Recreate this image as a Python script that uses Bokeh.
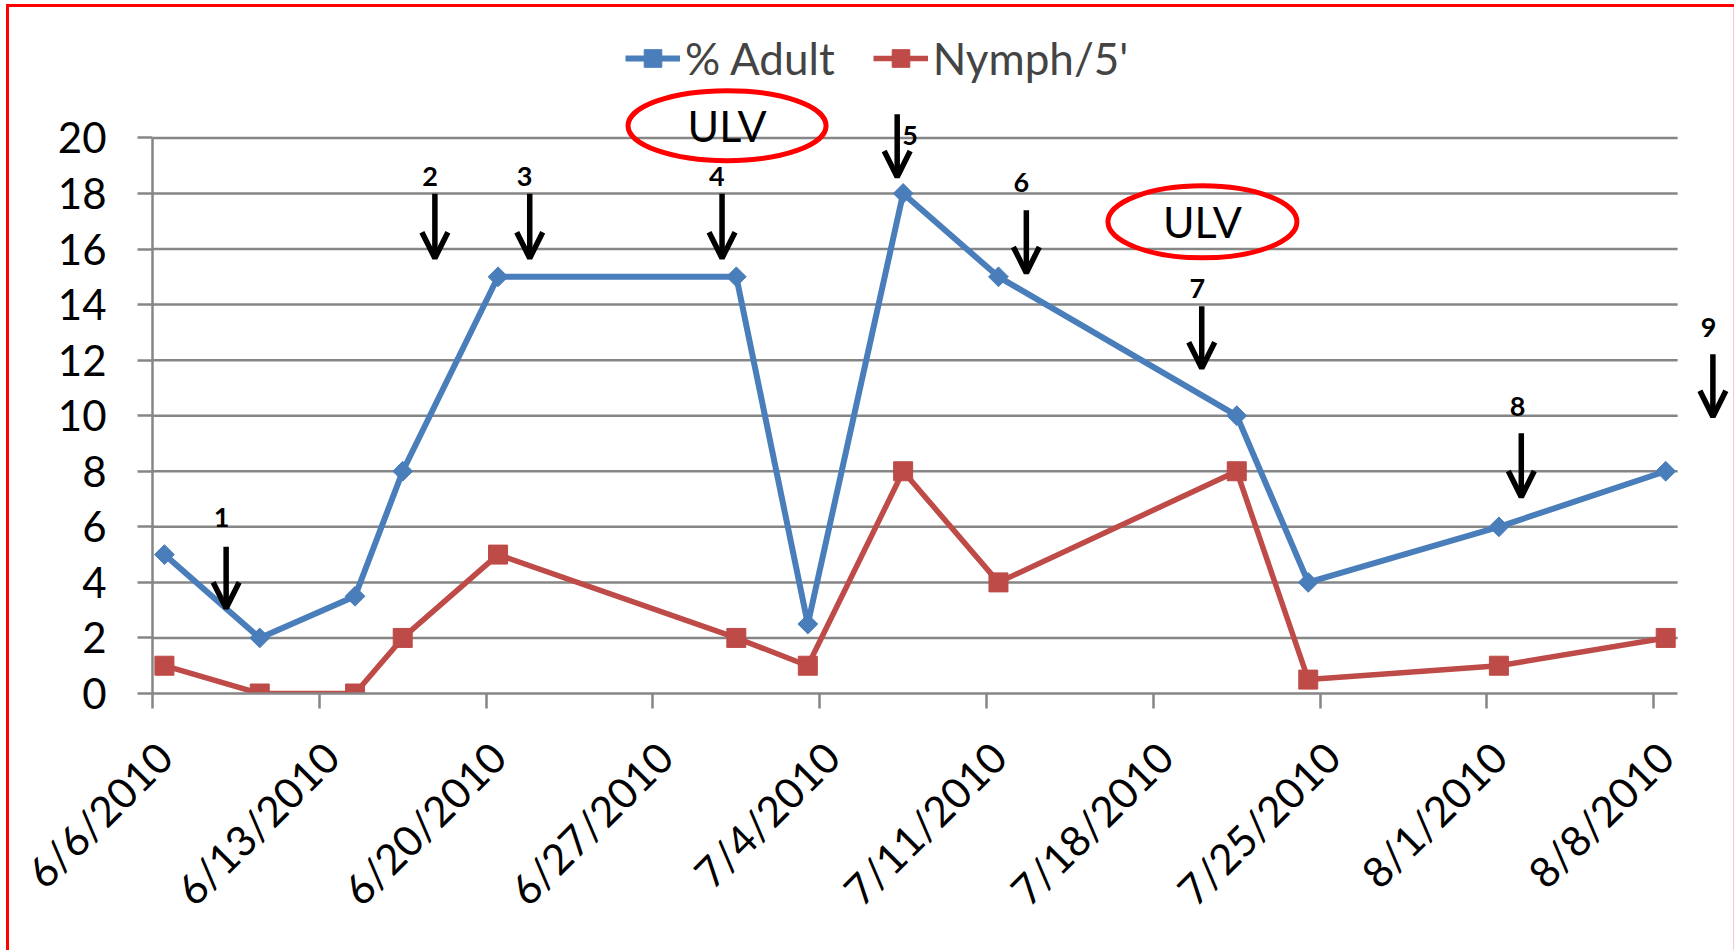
import datetime as dt
from bokeh.plotting import figure
from bokeh.models import (ColumnDataSource, Range1d, FixedTicker, Legend, LegendItem,
                          Arrow, OpenHead, LinearAxis)
from bokeh.core.properties import value
from bokeh.embed import file_html
from bokeh.resources import INLINE

# ---------------- data ----------------
sample_dates = ["2010-06-06", "2010-06-10", "2010-06-14", "2010-06-16", "2010-06-20",
                "2010-06-30", "2010-07-03", "2010-07-07", "2010-07-11", "2010-07-21",
                "2010-07-24", "2010-08-01", "2010-08-08"]
pct_adult = [5, 2, 3.5, 8, 15, 15, 2.5, 18, 15, 10, 4, 6, 8]
nymph_per_5ft = [1, 0, 0, 2, 5, 2, 1, 8, 4, 8, 0.5, 1, 2]

tick_dates = ["2010-06-06", "2010-06-13", "2010-06-20", "2010-06-27", "2010-07-04",
              "2010-07-11", "2010-07-18", "2010-07-25", "2010-08-01", "2010-08-08"]
tick_labels = ["6/6/2010", "6/13/2010", "6/20/2010", "6/27/2010", "7/4/2010",
               "7/11/2010", "7/18/2010", "7/25/2010", "8/1/2010", "8/8/2010"]
y_ticks = [0, 2, 4, 6, 8, 10, 12, 14, 16, 18, 20]

# numbered application arrows (x in days after 6/6/2010)
app_numbers = ["1", "2", "3", "4", "5", "6", "7", "8", "9"]
app_day = [3.09, 11.85, 15.83, 23.90, 31.25, 36.67, 44.03, 57.44, 65.48]
app_top = [5.28, 17.99, 17.99, 17.99, 20.85, 17.40, 13.94, 9.37, 12.21]
app_tip = [3.07, 15.67, 15.67, 15.67, 18.59, 15.14, 11.71, 7.07, 9.96]
app_label_day = [2.90, 11.65, 15.61, 23.68, 31.79, 36.46, 43.84, 57.28, 65.30]
app_label_y = [6.33, 18.62, 18.62, 18.62, 20.10, 18.39, 14.59, 10.32, 13.19]

# ULV callouts
ulv_text = ["ULV", "ULV"]
ulv_day = [24.11, 44.06]
ulv_y = [20.44, 16.98]
ulv_w = [8.31, 7.93]
ulv_h = [2.52, 2.59]

# ---------------- layout ----------------
W, H = 1734, 952
LEFT, TOP, BOTTOM = 152, 18, 259
PX_PER_DAY = 23.83
PX_PER_UNIT = 27.78
x_end = (W - LEFT) / PX_PER_DAY
y_end = (H - TOP - BOTTOM) / PX_PER_UNIT

start = dt.date(2010, 6, 6)
def day(s):
    return (dt.date.fromisoformat(s) - start).days

xs = [day(s) + 0.5 for s in sample_dates]
tick_pos = [day(s) for s in tick_dates]
label_pos = [t + 0.5 for t in tick_pos]   # Excel centres date labels on the day
axis_end = tick_pos[-1] + 1

FONT = "Lato"
BLUE = "#4A7EBB"
RED = "#BE4B48"
GRID = "#868686"
BORDER = "#FF0000"

p = figure(width=W, height=H, output_backend="svg", toolbar_location=None,
           x_range=Range1d(0, x_end), y_range=Range1d(0, y_end),
           min_border_left=LEFT, min_border_right=0, min_border_top=TOP,
           min_border_bottom=BOTTOM, outline_line_color=None,
           background_fill_color=None, border_fill_color=None)
p.xgrid.visible = False
p.ygrid.visible = False

# white page with the red chart-area border (left, top, faint right edge)
grad = f"linear-gradient({BORDER}, {BORDER})"
grad_faint = "linear-gradient(#F7CACA, #F7CACA)"
p.styles = {
    "background-color": "white",
    "background-image": f"{grad}, {grad}, {grad_faint}",
    "background-size": "3px 946px, 1728px 3px, 1px 946px",
    "background-position": "6px 4px, 6px 4px, 1733px 4px",
    "background-repeat": "no-repeat",
}

# gridlines (only across the date span)
gy = [v for v in y_ticks if v > 0]
p.segment(x0=[0] * len(gy), x1=[axis_end] * len(gy), y0=gy, y1=gy,
          line_color=GRID, line_width=2.5)

# x axis: line + tick marks (labels are drawn by the second axis)
xa = p.xaxis[0]
xa.ticker = FixedTicker(ticks=tick_pos)
xa.bounds = (0, axis_end)
xa.major_label_text_color = None
xa.major_label_text_font_size = "1px"
xa.major_label_standoff = 0
xa.axis_line_color = GRID
xa.axis_line_width = 2.5
xa.major_tick_line_color = GRID
xa.major_tick_line_width = 2.5
xa.major_tick_out = 15
xa.major_tick_in = 0
xa.minor_tick_line_color = None

# x axis: rotated date labels
xb = LinearAxis(ticker=FixedTicker(ticks=label_pos),
                major_label_overrides={t: l for t, l in zip(label_pos, tick_labels)},
                major_label_orientation=0.785398,
                major_label_text_font=FONT, major_label_text_font_size="42px",
                major_label_text_color="black", major_label_standoff=41,
                axis_line_color=None, major_tick_line_color=None,
                minor_tick_line_color=None, major_tick_out=0, major_tick_in=0)
p.add_layout(xb, "below")

ya = p.yaxis[0]
ya.ticker = FixedTicker(ticks=y_ticks)
ya.bounds = (0, 20)
ya.major_label_text_font = FONT
ya.major_label_text_font_size = "42px"
ya.major_label_text_color = "black"
ya.major_label_standoff = 31
ya.axis_line_color = GRID
ya.axis_line_width = 2.5
ya.major_tick_line_color = GRID
ya.major_tick_line_width = 2.5
ya.major_tick_out = 15
ya.major_tick_in = 0
ya.minor_tick_line_color = None

# series
src = ColumnDataSource(dict(x=xs, adult=pct_adult, nymph=nymph_per_5ft))
l1 = p.line("x", "adult", source=src, line_color=BLUE, line_width=6)
m1 = p.scatter("x", "adult", source=src, marker="square", angle=0.785398, size=14,
               fill_color=BLUE, line_color=BLUE)
l2 = p.line("x", "nymph", source=src, line_color=RED, line_width=5.5)
m2 = p.scatter("x", "nymph", source=src, marker="square", size=19,
               fill_color=RED, line_color=RED)

# arrows + numbers
asrc = ColumnDataSource(dict(x=app_day, y0=app_top, y1=app_tip))
p.add_layout(Arrow(end=OpenHead(size=26, line_width=5.5, line_color="black"),
                   x_start="x", y_start="y0", x_end="x", y_end="y1",
                   source=asrc, line_width=5.5, line_color="black"))
p.text(x=app_label_day, y=app_label_y, text=app_numbers, text_font=value(FONT),
       text_font_style="bold", text_font_size="27px", text_align="center",
       text_baseline="middle", text_color="black")

# ULV ellipses
p.ellipse(x=ulv_day, y=ulv_y, width=ulv_w, height=ulv_h, fill_color=None,
          line_color=BORDER, line_width=5)
p.text(x=ulv_day, y=ulv_y, text=ulv_text, text_font=value(FONT),
       text_font_size="43px", text_align="center", text_baseline="middle",
       text_color="black")

# legend
legend = Legend(items=[LegendItem(label="% Adult", renderers=[l1, m1]),
                       LegendItem(label="Nymph/5'", renderers=[l2, m2])],
                orientation="horizontal", location=(473, 609),
                glyph_width=55, glyph_height=44, label_height=44,
                label_standoff=5, spacing=38, padding=0, margin=0,
                border_line_alpha=0, background_fill_alpha=0,
                label_text_font=FONT, label_text_font_size="44px")
p.add_layout(legend)

open("out.html", "w").write(file_html(p, INLINE))
